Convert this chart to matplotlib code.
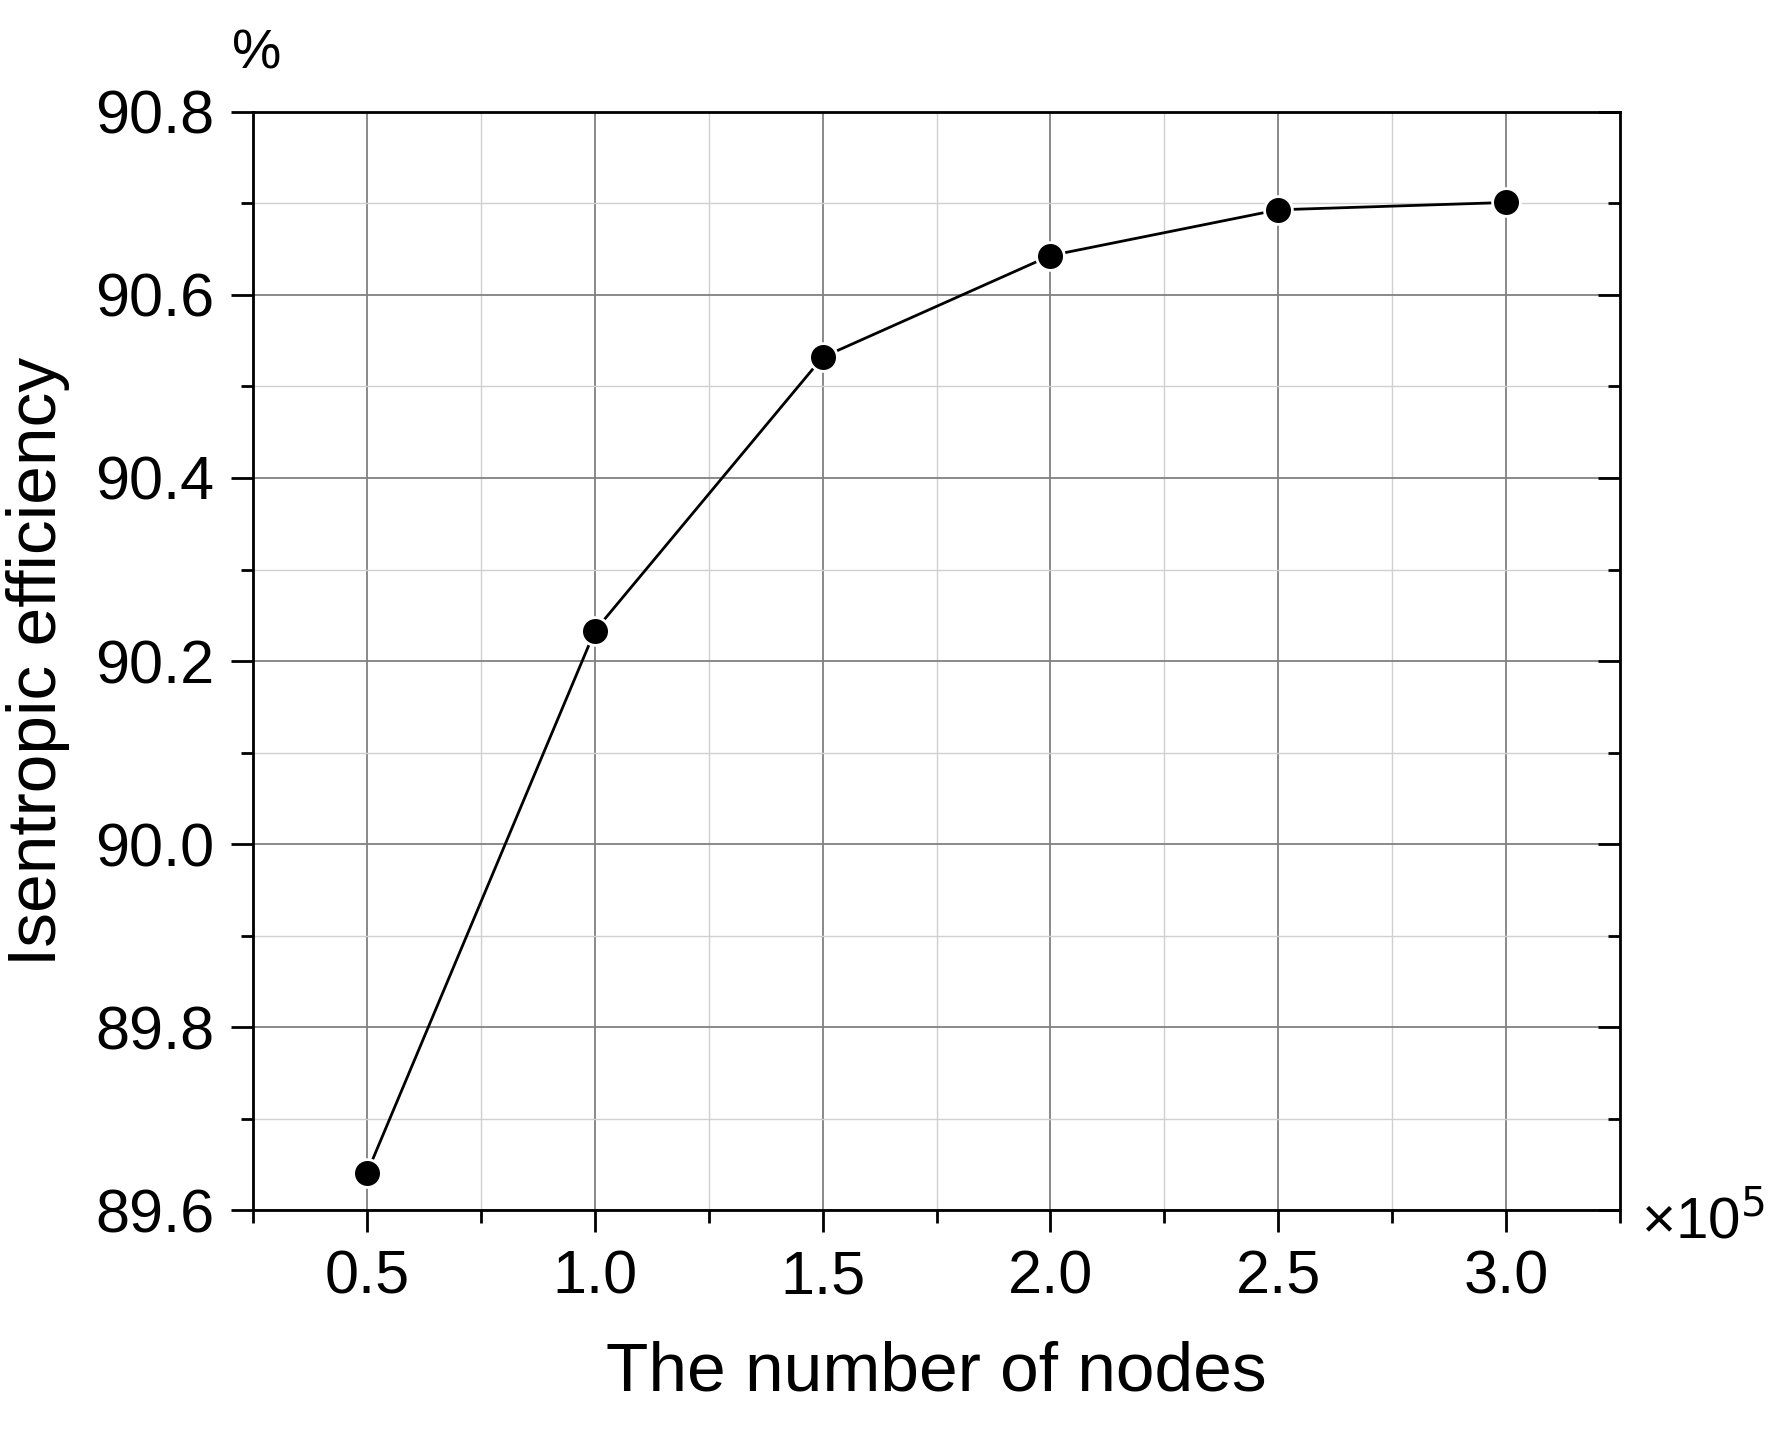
import matplotlib.pyplot as plt
from matplotlib.ticker import MultipleLocator

# Data (x in units of 1e5 nodes)
nodes = [0.5, 1.0, 1.5, 2.0, 2.5, 3.0]
efficiency = [89.641, 90.233, 90.532, 90.643, 90.693, 90.701]

plt.rcParams['font.family'] = ['Liberation Sans', 'DejaVu Sans']

fig = plt.figure(figsize=(17.88, 14.34), dpi=100)
ax = fig.add_axes([0.1416, 0.156, 0.7644, 0.766])

ax.plot(nodes, efficiency, '-', color='black', lw=2, zorder=3)
ax.plot(nodes, efficiency, 'o', color='black', markersize=20,
        markeredgecolor='white', markeredgewidth=2, zorder=4)

ax.set_xlim(0.25, 3.25)
ax.set_ylim(89.6, 90.8)
ax.xaxis.set_major_locator(MultipleLocator(0.5))
ax.xaxis.set_minor_locator(MultipleLocator(0.25))
ax.yaxis.set_major_locator(MultipleLocator(0.2))
ax.yaxis.set_minor_locator(MultipleLocator(0.1))
ax.xaxis.set_major_formatter(plt.FormatStrFormatter('%.1f'))
ax.yaxis.set_major_formatter(plt.FormatStrFormatter('%.1f'))

ax.grid(which='major', color='#808080', lw=1.3)
ax.grid(which='minor', color='#d0d0d0', lw=1.0)
ax.set_axisbelow(True)

ax.tick_params(which='both', direction='out', width=2, labelsize=44)
ax.tick_params(which='major', length=16, pad=12)
ax.tick_params(which='minor', length=9)
for s in ax.spines.values():
    s.set_linewidth(2)

# right-hand ticks point inward
ax2 = ax.twinx()
ax2.set_ylim(ax.get_ylim())
ax2.yaxis.set_major_locator(MultipleLocator(0.2))
ax2.yaxis.set_minor_locator(MultipleLocator(0.1))
ax2.tick_params(which='both', direction='in', width=2, labelright=False)
ax2.tick_params(which='major', length=16)
ax2.tick_params(which='minor', length=9)

ax.set_xlabel('The number of nodes', fontsize=50, labelpad=25)
ax.set_ylabel('Isentropic efficiency', fontsize=50, labelpad=18)
fig.text(0.13, 0.962, '%', fontsize=40, ha='left', va='center')
fig.text(0.918, 0.148, '×10$^5$', fontsize=42, ha='left', va='center')

fig.savefig('out.png', dpi=100)
